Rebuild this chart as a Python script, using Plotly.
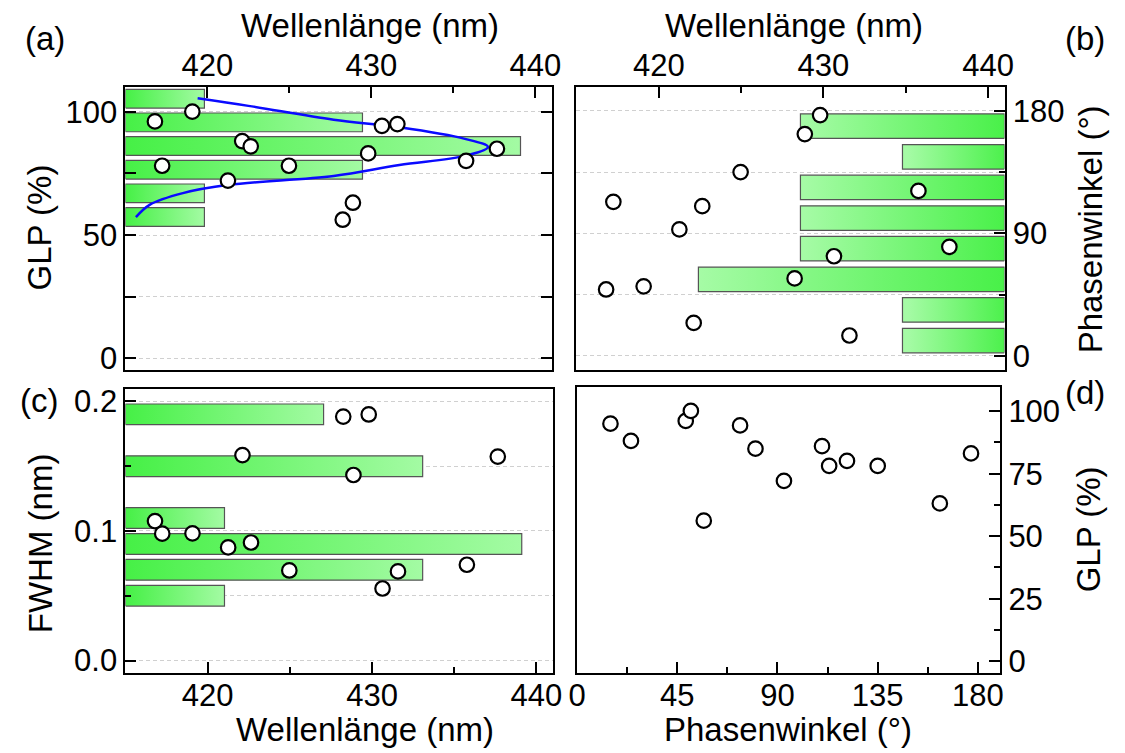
import plotly.graph_objects as go

# ---------------------------------------------------------------------------
# Emitter measurements (one entry per emitter)
# ---------------------------------------------------------------------------
wavelength_nm = [416.8, 419.08, 422.12, 422.64, 417.24, 424.97, 421.25,
                 430.64, 431.58, 429.8, 437.65, 435.77, 428.87, 428.25]
glp_percent = [96.1, 100.1, 88.1, 86.0, 78.1, 78.1, 72.1,
               94.3, 95.0, 83.1, 85.0, 80.1, 63.1, 56.2]
phase_deg = [48.8, 51.1, 24.2, 110.0, 113.2, 135.0, 92.9,
             73.2, 15.0, 176.9, 80.1, 121.2, 162.9, 56.9]
fwhm_nm = [0.1076, 0.0982, 0.1586, 0.0911, 0.0979, 0.0695, 0.0873,
           0.0556, 0.0688, 0.1899, 0.1574, 0.0739, 0.1432, 0.1883]

# Histograms (bin centre, number of emitters, drawn bar thickness)
glp_bins = [57.3, 66.9, 76.5, 86.1, 95.7, 105.3]
glp_counts = [1, 1, 3, 5, 3, 1]
glp_bar = 7.6

phase_bins = [11.25, 33.75, 56.25, 78.75, 101.25, 123.75, 146.25, 168.75]
phase_counts = [1, 1, 3, 2, 2, 2, 1, 2]
phase_bar = 18.0

fwhm_bins = [0.05, 0.07, 0.09, 0.11, 0.15, 0.19]
fwhm_counts = [1, 3, 4, 1, 3, 2]
fwhm_bar = 0.016

# Gaussian fit of the GLP histogram (count vs. GLP)
fit_glp = [57.25, 62.34, 66.99, 70.35, 73.96, 78.37, 82.09, 85.70,
           89.02, 93.71, 96.79, 102.40, 105.45]
fit_count = [0.133, 0.311, 0.727, 1.308, 2.636, 3.467, 4.296, 4.588,
             4.296, 3.467, 2.636, 1.557, 0.914]

# ---------------------------------------------------------------------------
# Styling
# ---------------------------------------------------------------------------
W, H = 1125, 753
FONT = "Liberation Sans, Arial, Helvetica, sans-serif"
TICK_SIZE = 31
TITLE_SIZE = 33
GREEN_BASE = "rgb(70,240,70)"
GREEN_TIP = "rgb(165,251,165)"
BAR_EDGE = "#555555"
GRID = "#d0d0d0"


def fx(p):
    return p / W


def fy(p):
    return 1 - p / H


A_X, A_Y = [fx(118.3), fx(551.7)], [fy(371), fy(84)]
B_X, B_Y = [fx(576.7), fx(1011.7)], [fy(371), fy(84)]
C_X, C_Y = [fx(118.3), fx(552.7)], [fy(677.7), fy(390)]
D_X, D_Y = [fx(577.3), fx(1007.3)], [fy(677.7), fy(388.3)]

WL_RANGE = [415, 441]

tickfont = dict(family=FONT, size=TICK_SIZE, color="black")


def axis(**kw):
    base = dict(showline=True, linecolor="black", linewidth=2,
                ticks="inside", tickcolor="black", tickwidth=2, ticklen=11,
                tickfont=tickfont, zeroline=False, showgrid=False,
                fixedrange=True)
    base.update(kw)
    return base


def minor(dtick, grid):
    m = dict(dtick=dtick, ticks="inside", ticklen=6, tickwidth=2,
             tickcolor="black", showgrid=grid)
    if grid:
        m.update(gridcolor=GRID, griddash="4px,3px", gridwidth=1)
    return m


gridkw = dict(showgrid=True, gridcolor=GRID, griddash="4px,3px", gridwidth=1)

fig = go.Figure()


def add_hist(centers, counts, thickness, xa, ya):
    for c, n in zip(centers, counts):
        lo, hi = c - thickness / 2, c + thickness / 2
        fig.add_trace(go.Scatter(
            x=[0, n, n, 0, 0], y=[lo, lo, hi, hi, lo],
            mode="lines", fill="toself",
            line=dict(color=BAR_EDGE, width=1.2),
            fillgradient=dict(type="horizontal", start=0, stop=n,
                              colorscale=[[0, GREEN_BASE], [1, GREEN_TIP]]),
            xaxis=xa, yaxis=ya, hoverinfo="skip", showlegend=False))


def add_points(x, y, xa, ya):
    fig.add_trace(go.Scatter(
        x=x, y=y, mode="markers",
        marker=dict(size=14.5, color="white",
                    line=dict(color="black", width=2.2)),
        xaxis=xa, yaxis=ya, showlegend=False))


# (a) GLP histogram + Gaussian fit, GLP vs. wavelength
add_hist(glp_bins, glp_counts, glp_bar, "x", "y")
fig.add_trace(go.Scatter(x=fit_count, y=fit_glp, mode="lines",
                         line=dict(color="#0a0aff", width=2.5, shape="spline"),
                         xaxis="x", yaxis="y", showlegend=False))
add_points(wavelength_nm, glp_percent, "x5", "y")

# (b) phase histogram, phase vs. wavelength
add_hist(phase_bins, phase_counts, phase_bar, "x2", "y2")
add_points(wavelength_nm, phase_deg, "x6", "y2")

# (c) FWHM histogram, FWHM vs. wavelength
add_hist(fwhm_bins, fwhm_counts, fwhm_bar, "x3", "y3")
add_points(wavelength_nm, fwhm_nm, "x7", "y3")

# (d) GLP vs. phase
add_points(phase_deg, glp_percent, "x4", "y4")

fig.update_layout(
    width=W, height=H, margin=dict(l=0, r=0, t=0, b=0),
    paper_bgcolor="white", plot_bgcolor="white", showlegend=False,
    font=dict(family=FONT, color="black"),
    # panel (a)
    xaxis=dict(domain=A_X, anchor="y", range=[0, 5.397], visible=False,
               fixedrange=True),
    yaxis=axis(domain=A_Y, anchor="x", range=[-4.8, 110.1], side="left",
               dtick=50, tick0=0, mirror="allticks",
               minor=minor(25, True), **gridkw),
    xaxis5=axis(overlaying="x", anchor="y", side="top", range=WL_RANGE,
                dtick=10, tick0=0, mirror=True, minor=minor(5, False),
                ticklabelstandoff=-4),
    # panel (b)
    xaxis2=dict(domain=B_X, anchor="y2", range=[4.195, 0], visible=False,
                fixedrange=True),
    yaxis2=axis(domain=B_Y, anchor="x2", range=[-10.4, 197.6], side="right",
                dtick=90, tick0=0, mirror=True, minor=minor(45, True),
                ticklabelstandoff=0, **gridkw),
    xaxis6=axis(overlaying="x2", anchor="y2", side="top", range=WL_RANGE,
                dtick=10, tick0=0, mirror=True, minor=minor(5, False),
                ticklabelstandoff=-4),
    # panel (c)
    xaxis3=dict(domain=C_X, anchor="y3", range=[0, 4.314], visible=False,
                fixedrange=True),
    yaxis3=axis(domain=C_Y, anchor="x3", range=[-0.0094, 0.2097],
                side="left", dtick=0.1, tick0=0, tickformat=".1f",
                mirror=True, minor=minor(0.05, True), **gridkw),
    xaxis7=axis(overlaying="x3", anchor="y3", side="bottom", range=WL_RANGE,
                dtick=10, tick0=0, mirror=True, minor=minor(5, False),
                ticklabelstandoff=-6),
    # panel (d)
    xaxis4=axis(domain=D_X, anchor="y4", range=[0, 190], side="bottom",
                dtick=45, tick0=0, mirror=True, minor=minor(22.5, False),
                ticklabelstandoff=-6),
    yaxis4=axis(domain=D_Y, anchor="x4", range=[-4.6, 109.6], side="right",
                dtick=25, tick0=0, mirror=True, minor=minor(12.5, False)),
)


def label(text, xp, yp, angle=0, size=TITLE_SIZE, yanchor="middle"):
    fig.add_annotation(text=text, x=fx(xp), y=fy(yp), xref="paper",
                       yref="paper", showarrow=False, textangle=angle,
                       xanchor="center", yanchor=yanchor, borderpad=0,
                       font=dict(family=FONT, size=size, color="black"))


# axis titles
label("Wellenlänge (nm)", 367, 2, yanchor="top")
label("Wellenlänge (nm)", 798, 2, yanchor="top")
label("Wellenlänge (nm)", 362, 755, yanchor="bottom")
label("Phasenwinkel (°)", 792, 755, yanchor="bottom")
label("GLP (%)", 32, 226, angle=-90)
label("FWHM (nm)", 32, 546, angle=-90)
label("Phasenwinkel (°)", 1100, 228, angle=-90)
label("GLP (%)", 1098, 532, angle=-90)

# panel letters
label("(a)", 37, 35)
label("(b)", 1093, 35)
label("(c)", 30, 402)
label("(d)", 1094, 394)

fig.write_html("out.html")
